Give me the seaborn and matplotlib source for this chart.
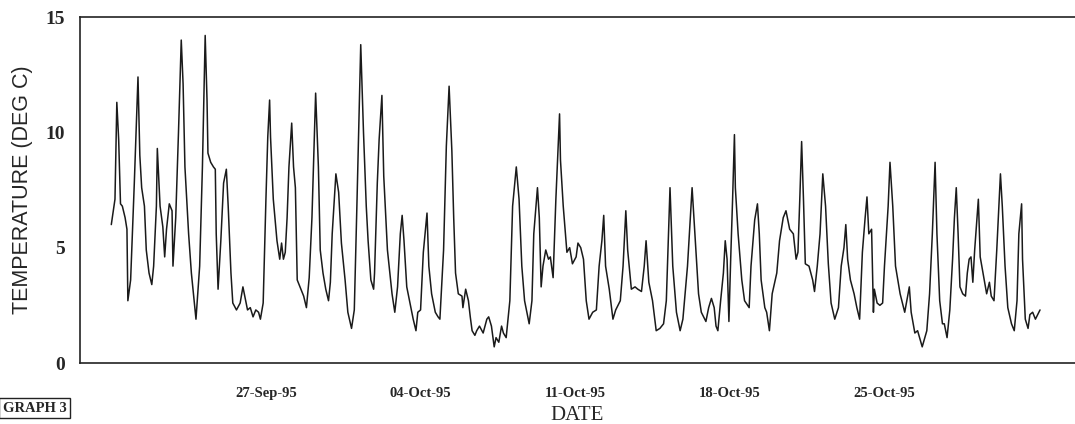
import matplotlib
matplotlib.use("Agg")
import matplotlib.pyplot as plt
import matplotlib.dates as mdates
import pandas as pd
import seaborn as sns

# hours after 20-Sep-95 00:00 and the temperature
hours = [0, 4, 6, 8, 10, 12, 15, 17, 18, 21,
         25, 29, 31, 33, 36, 38, 41, 44, 46, 49,
         50, 53, 56, 58, 60, 63, 66, 67, 70, 73,
         76, 78, 80, 84, 87, 92, 96, 99, 102, 104,
         105, 108, 111, 113, 114, 116, 119, 122, 125, 127,
         130, 132, 136, 140, 143, 145, 148, 151, 154, 157,
         160, 162, 165, 168, 170, 172, 173, 176, 180, 183,
         185, 187, 189, 191, 193, 196, 198, 200, 202, 205,
         209, 212, 215, 218, 222, 225, 227, 230, 233, 236,
         238, 240, 244, 247, 250, 254, 257, 261, 264, 267,
         271, 274, 277, 279, 282, 285, 286, 289, 291, 294,
         296, 300, 305, 308, 311, 314, 316, 318, 321, 324,
         328, 331, 333, 336, 339, 343, 345, 348, 352, 355,
         357, 361, 364, 367, 370, 372, 374, 377, 381, 382,
         385, 388, 390, 392, 395, 397, 400, 404, 408, 410,
         413, 416, 418, 421, 424, 426, 429, 433, 436, 440,
         443, 446, 449, 454, 457, 459, 463, 465, 467, 469,
         472, 475, 477, 480, 483, 487, 488, 491, 495, 498,
         501, 505, 507, 510, 513, 516, 519, 523, 527, 530,
         533, 535, 537, 541, 545, 548, 553, 556, 559, 561,
         565, 569, 572, 576, 579, 581, 584, 588, 592, 596,
         600, 603, 607, 610, 614, 618, 621, 626, 631, 634,
         638, 641, 646, 649, 652, 655, 657, 659, 662, 665,
         667, 669, 671, 673, 675, 677, 678, 681, 685, 688,
         693, 695, 699, 702, 704, 706, 710, 712, 715, 718,
         723, 726, 730, 733, 737, 741, 744, 746, 748, 750,
         752, 754, 758, 762, 764, 767, 770, 773, 776, 779,
         782, 786, 790, 793, 796, 798, 800, 803, 807, 810,
         813, 816, 819, 821, 823, 826, 828, 829, 832, 835,
         838, 840, 844, 846, 849, 852, 857, 862, 867, 869,
         873, 876, 881, 886, 889, 892, 895, 897, 900, 903,
         905, 908, 911, 914, 916, 918, 920, 922, 925, 928,
         930, 932, 934, 936, 938, 942, 944, 948, 951, 954,
         956, 959, 962, 966, 968, 971, 974, 978, 981, 984,
         986, 989, 990, 993, 996, 998, 1001, 1004, 1009]

temps = [6.0, 7.1, 11.3, 9.7, 6.9, 6.8, 6.3, 5.8, 2.7, 3.6,
         7.8, 12.4, 9.0, 7.6, 6.8, 4.9, 3.9, 3.4, 4.2, 6.8,
         9.3, 6.8, 5.9, 4.6, 5.8, 6.9, 6.6, 4.2, 6.3, 10.0,
         14.0, 12.1, 8.5, 5.6, 3.9, 1.9, 4.2, 8.5, 14.2, 11.4,
         9.1, 8.7, 8.5, 8.4, 5.6, 3.2, 5.3, 7.8, 8.4, 6.8,
         3.9, 2.6, 2.3, 2.6, 3.3, 2.9, 2.3, 2.4, 2.0, 2.3,
         2.2, 1.9, 2.6, 7.1, 9.8, 11.4, 9.8, 7.1, 5.3, 4.5,
         5.2, 4.5, 4.8, 6.3, 8.5, 10.4, 8.5, 7.6, 3.6, 3.3,
         2.9, 2.4, 3.7, 6.3, 11.7, 8.5, 4.9, 3.9, 3.2, 2.7,
         3.5, 5.6, 8.2, 7.4, 5.2, 3.6, 2.2, 1.5, 2.3, 7.1,
         13.8, 10.0, 6.8, 5.3, 3.6, 3.2, 3.9, 7.8, 9.7, 11.6,
         8.1, 4.9, 3.0, 2.2, 3.3, 5.6, 6.4, 5.3, 3.3, 2.7,
         1.9, 1.4, 2.2, 2.3, 4.8, 6.5, 4.2, 3.0, 2.2, 2.0,
         1.9, 4.9, 9.4, 12.0, 9.2, 6.3, 3.9, 3.0, 2.9, 2.4,
         3.2, 2.7, 2.0, 1.4, 1.2, 1.4, 1.6, 1.3, 1.9, 2.0,
         1.6, 0.7, 1.1, 0.9, 1.6, 1.3, 1.1, 2.7, 6.8, 8.5,
         7.1, 4.2, 2.7, 1.7, 2.7, 5.6, 7.6, 6.3, 3.3, 4.2,
         4.9, 4.5, 4.6, 3.7, 7.1, 10.8, 8.8, 6.8, 4.8, 5.0,
         4.3, 4.6, 5.2, 5.0, 4.5, 2.7, 1.9, 2.2, 2.3, 4.2,
         5.3, 6.4, 4.2, 3.2, 1.9, 2.3, 2.7, 4.2, 6.6, 4.9,
         3.2, 3.3, 3.2, 3.1, 4.2, 5.3, 3.5, 2.7, 1.4, 1.5,
         1.7, 2.7, 7.6, 4.2, 2.2, 1.4, 1.9, 4.2, 7.6, 5.6,
         3.0, 2.2, 1.8, 2.4, 2.8, 2.4, 1.6, 1.4, 2.7, 3.9,
         5.3, 4.5, 1.8, 4.6, 7.1, 9.9, 7.6, 5.6, 3.6, 2.7,
         2.4, 4.2, 6.2, 6.9, 5.6, 3.6, 2.4, 2.2, 1.4, 3.0,
         3.9, 5.3, 6.3, 6.6, 5.8, 5.6, 4.5, 4.8, 7.1, 9.6,
         7.1, 4.3, 4.2, 3.6, 3.1, 4.2, 5.6, 8.2, 6.8, 4.3,
         2.6, 1.9, 2.4, 4.2, 5.0, 6.0, 4.5, 3.6, 3.0, 2.4,
         1.9, 4.8, 6.3, 7.2, 5.6, 5.8, 2.2, 3.2, 2.6, 2.5,
         2.6, 4.2, 6.8, 8.7, 6.8, 4.2, 3.0, 2.2, 3.3, 2.2,
         1.3, 1.4, 0.7, 1.4, 3.0, 5.6, 8.7, 5.6, 2.7, 1.7,
         1.7, 1.1, 2.3, 4.5, 6.3, 7.6, 5.6, 3.3, 3.0, 2.9,
         3.9, 4.5, 4.6, 3.5, 4.9, 7.1, 4.6, 3.7, 3.0, 3.5,
         2.9, 2.7, 4.9, 8.2, 6.8, 4.2, 2.4, 1.7, 1.4, 2.7,
         5.6, 6.9, 4.5, 1.9, 1.5, 2.1, 2.2, 1.9, 2.3]

tick_dates = ["1995-09-27", "1995-10-04", "1995-10-11", "1995-10-18", "1995-10-25"]
y_ticks = [0, 5, 10, 15]

start = pd.Timestamp("1995-09-20")
df = pd.DataFrame({"date": start + pd.to_timedelta(hours, unit="h"), "temp": temps})

sns.set_style("white")
serif = ["Liberation Serif", "DejaVu Serif"]

fig = plt.figure(figsize=(10.75, 4.24), dpi=100)
ax = fig.add_axes([80 / 1075, 61 / 424, 995 / 1075, 346 / 424])

sns.lineplot(data=df, x="date", y="temp", ax=ax, color="#1a1a1a", linewidth=1.1)

ax.set_xlim(start - pd.Timedelta(hours=34), start + pd.Timedelta(hours=1047))
ax.set_ylim(0, 15)
ax.set_yticks(y_ticks)
ax.set_yticklabels([str(v) for v in y_ticks], fontfamily=serif, fontsize=14, fontweight="bold")
ax.set_xticks(pd.to_datetime(tick_dates))
ax.xaxis.set_major_formatter(mdates.DateFormatter("%d-%b-%y"))
for lab in ax.get_xticklabels():
    lab.set_fontfamily(serif)
    lab.set_fontsize(10.5)
    lab.set_fontweight("bold")
ax.tick_params(axis="x", length=0, pad=17)
ax.tick_params(axis="y", direction="in", length=5, pad=11, color="#222222")

for side in ["left", "top", "bottom"]:
    ax.spines[side].set_color("#222222")
    ax.spines[side].set_linewidth(1.2)
ax.spines["right"].set_visible(False)

ax.set_xlabel("DATE", fontfamily=serif, fontsize=15)
ax.xaxis.set_label_coords(0.5, -0.123)
ax.set_ylabel("TEMPERATURE (DEG C)", fontfamily=["Liberation Sans", "DejaVu Sans"], fontsize=15.5)
ax.yaxis.set_label_coords(-0.047, 0.5)

fig.text(0.062, 1 - 408 / 424, "GRAPH 3", ha="right", va="center",
         fontfamily=serif, fontsize=10.5, fontweight="bold",
         bbox=dict(boxstyle="square,pad=0.25", facecolor="white", edgecolor="#222222", linewidth=1))

fig.savefig("out.png", dpi=100)
